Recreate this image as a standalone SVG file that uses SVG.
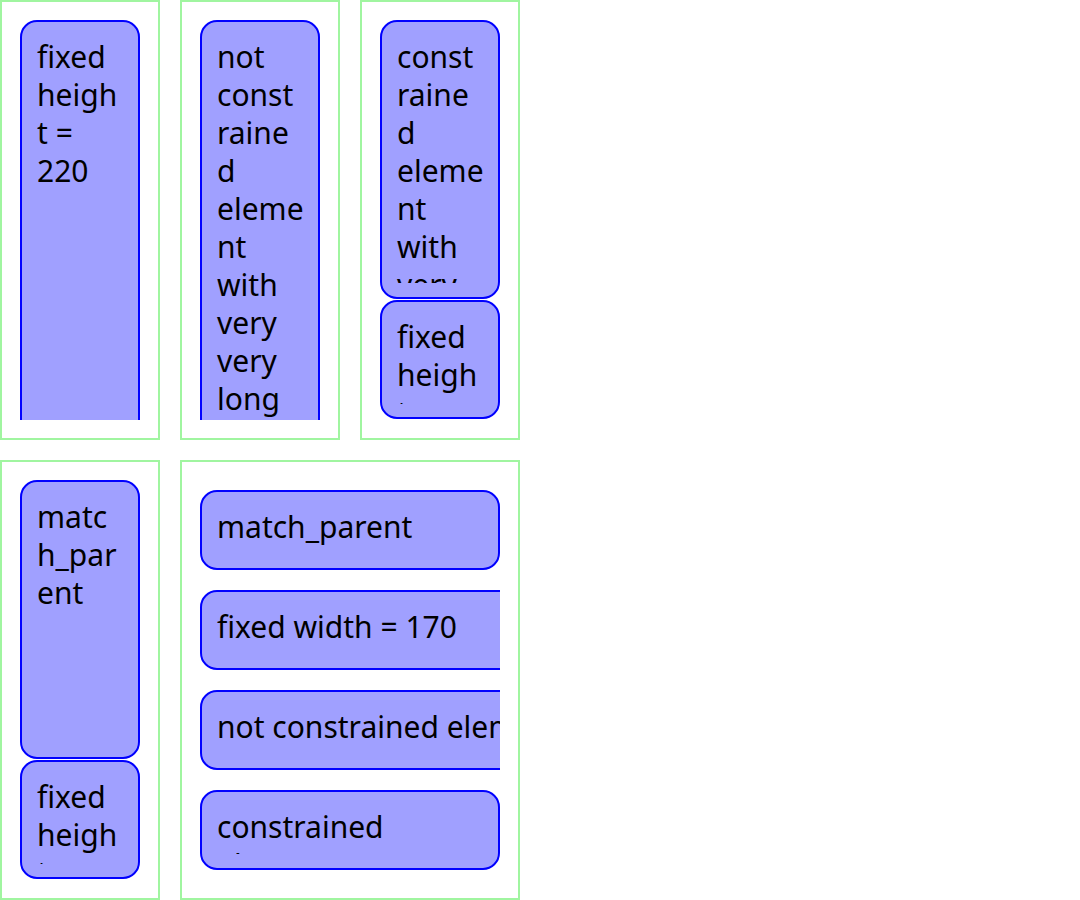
<svg xmlns="http://www.w3.org/2000/svg" width="1080" height="900" viewBox="0 0 1080 900">
<style>
.frame{fill:none;stroke:#a0f5a0;stroke-width:2}
.box{fill:#a0a0ff;stroke:#0000ff;stroke-width:2}
.t{font-family:"Noto Sans",sans-serif;font-size:30px;fill:#000}
</style>
<defs>
<clipPath id="c1"><rect x="20" y="20" width="120" height="400"/></clipPath>
<clipPath id="c2"><rect x="200" y="20" width="120" height="400"/></clipPath>
<clipPath id="c3"><rect x="380" y="20" width="120" height="400"/></clipPath>
<clipPath id="c3a"><rect x="380" y="36" width="120" height="247"/></clipPath>
<clipPath id="c3b"><rect x="380" y="316" width="120" height="88"/></clipPath>
<clipPath id="c4"><rect x="20" y="480" width="120" height="400"/></clipPath>
<clipPath id="c4a"><rect x="20" y="496" width="120" height="247"/></clipPath>
<clipPath id="c4b"><rect x="20" y="776" width="120" height="88"/></clipPath>
<clipPath id="c5"><rect x="200" y="480" width="300" height="400"/></clipPath>
<clipPath id="c5d"><rect x="200" y="806" width="300" height="48"/></clipPath>
</defs>
<rect width="1080" height="900" fill="#fff"/>
<g id="frame1">
<rect class="frame" x="1" y="1" width="158" height="438"/>
<g id="node-fixed-height-220" clip-path="url(#c1)">
<rect class="box" x="21" y="21" width="118" height="418" rx="16"/>
<text class="t"><tspan y="68" x="37">fixed</tspan><tspan y="106" x="37">heigh</tspan><tspan y="144" x="37">t =</tspan><tspan y="182" x="37">220</tspan></text>
</g>
</g>
<g id="frame2">
<rect class="frame" x="181" y="1" width="158" height="438"/>
<g id="node-not-constrained-tall" clip-path="url(#c2)">
<rect class="box" x="201" y="21" width="118" height="418" rx="16"/>
<text class="t"><tspan y="68" x="217">not</tspan><tspan y="106" x="217">const</tspan><tspan y="144" x="217">raine</tspan><tspan y="182" x="217">d</tspan><tspan y="220" x="217">eleme</tspan><tspan y="258" x="217">nt</tspan><tspan y="296" x="217">with</tspan><tspan y="334" x="217">very</tspan><tspan y="372" x="217">very</tspan><tspan y="410" x="217">long</tspan></text>
</g>
</g>
<g id="frame3">
<rect class="frame" x="361" y="1" width="158" height="438"/>
<g id="node-constrained-tall" clip-path="url(#c3)">
<rect class="box" x="381" y="21" width="118" height="277" rx="16"/>
<text class="t" clip-path="url(#c3a)"><tspan y="68" x="397">const</tspan><tspan y="106" x="397">raine</tspan><tspan y="144" x="397">d</tspan><tspan y="182" x="397">eleme</tspan><tspan y="220" x="397">nt</tspan><tspan y="258" x="397">with</tspan><tspan y="296" x="397">very</tspan></text>
</g>
<g id="node-fixed-height-a" clip-path="url(#c3)">
<rect class="box" x="381" y="301" width="118" height="117" rx="16"/>
<text class="t" clip-path="url(#c3b)"><tspan y="348" x="397">fixed</tspan><tspan y="386" x="397">heigh</tspan><tspan y="424" x="397">t =</tspan></text>
</g>
</g>
<g id="frame4">
<rect class="frame" x="1" y="461" width="158" height="438"/>
<g id="node-match-parent-tall" clip-path="url(#c4)">
<rect class="box" x="21" y="481" width="118" height="277" rx="16"/>
<text class="t" clip-path="url(#c4a)"><tspan y="528" x="37">matc</tspan><tspan y="566" x="37">h_par</tspan><tspan y="604" x="37">ent</tspan></text>
</g>
<g id="node-fixed-height-b" clip-path="url(#c4)">
<rect class="box" x="21" y="761" width="118" height="117" rx="16"/>
<text class="t" clip-path="url(#c4b)"><tspan y="808" x="37">fixed</tspan><tspan y="846" x="37">heigh</tspan><tspan y="884" x="37">t =</tspan></text>
</g>
</g>
<g id="frame5">
<rect class="frame" x="181" y="461" width="338" height="438"/>
<g id="node-match-parent-wide" clip-path="url(#c5)">
<rect class="box" x="201" y="491" width="298" height="78" rx="16"/>
<text class="t" x="217" y="538">match_parent</text>
</g>
<g id="node-fixed-width-170" clip-path="url(#c5)">
<rect class="box" x="201" y="591" width="340" height="78" rx="16"/>
<text class="t" x="217" y="638">fixed width = 170</text>
</g>
<g id="node-not-constrained-wide" clip-path="url(#c5)">
<rect class="box" x="201" y="691" width="600" height="78" rx="16"/>
<text class="t" x="217" y="738">not constrained element</text>
</g>
<g id="node-constrained-wide" clip-path="url(#c5)">
<rect class="box" x="201" y="791" width="298" height="78" rx="16"/>
<text class="t" clip-path="url(#c5d)"><tspan x="217" y="838">constrained</tspan><tspan x="217" y="876">element</tspan></text>
</g>
</g>
<g id="connectors"/>
</svg>
